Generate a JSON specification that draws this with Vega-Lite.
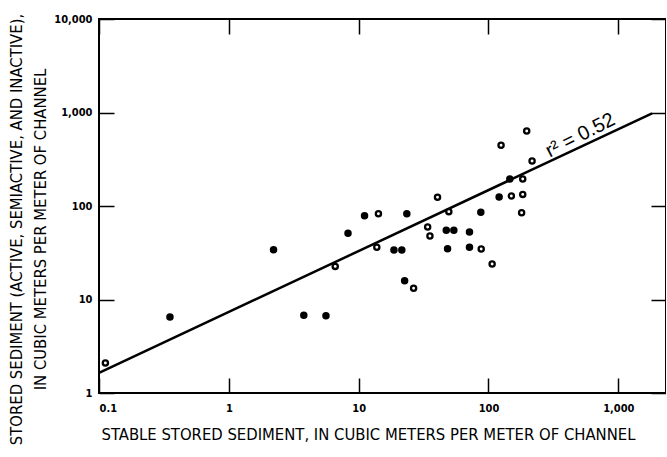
{
  "$schema": "https://vega.github.io/schema/vega-lite/v6.json",
  "autosize": "none",
  "width": 567,
  "height": 374,
  "padding": {"left": 99, "top": 19, "right": 0, "bottom": 64},
  "background": "white",
  "config": {
    "view": {"stroke": "black", "strokeWidth": 2},
    "axis": {
      "grid": false,
      "domain": false,
      "tickColor": "black",
      "tickWidth": 1.5,
      "tickSize": -15,
      "labelFont": "DejaVu Sans Condensed, Liberation Sans",
      "labelFontWeight": "bold",
      "labelFontSize": 11,
      "labelColor": "black",
      "titleFont": "DejaVu Sans Condensed, Liberation Sans",
      "titleFontWeight": "normal",
      "titleFontSize": 16.5,
      "titleColor": "black"
    }
  },
  "datasets": {
    "points": [
      {"stable": 0.112, "stored": 2.09, "type": "open"},
      {"stable": 0.352, "stored": 6.5, "type": "filled"},
      {"stable": 2.21, "stored": 34, "type": "filled"},
      {"stable": 3.78, "stored": 6.8, "type": "filled"},
      {"stable": 5.6, "stored": 6.7, "type": "filled"},
      {"stable": 6.6, "stored": 22.6, "type": "open"},
      {"stable": 8.28, "stored": 51, "type": "filled"},
      {"stable": 11.1, "stored": 78.8, "type": "filled"},
      {"stable": 14.2, "stored": 82.7, "type": "open"},
      {"stable": 13.8, "stored": 36.2, "type": "open"},
      {"stable": 18.7, "stored": 33.9, "type": "filled"},
      {"stable": 21.5, "stored": 33.9, "type": "filled"},
      {"stable": 23.5, "stored": 82.7, "type": "filled"},
      {"stable": 22.6, "stored": 15.9, "type": "filled"},
      {"stable": 26.5, "stored": 13.2, "type": "open"},
      {"stable": 40.5, "stored": 124, "type": "open"},
      {"stable": 34, "stored": 59.6, "type": "open"},
      {"stable": 35.4, "stored": 47.8, "type": "open"},
      {"stable": 49.5, "stored": 87, "type": "open"},
      {"stable": 47.3, "stored": 55, "type": "filled"},
      {"stable": 54.1, "stored": 55, "type": "filled"},
      {"stable": 48.4, "stored": 34.9, "type": "filled"},
      {"stable": 71.4, "stored": 52.7, "type": "filled"},
      {"stable": 71.4, "stored": 36.2, "type": "filled"},
      {"stable": 87.9, "stored": 34.7, "type": "open"},
      {"stable": 87.3, "stored": 85.7, "type": "filled"},
      {"stable": 106.7, "stored": 24, "type": "open"},
      {"stable": 120.8, "stored": 124.8, "type": "filled"},
      {"stable": 150, "stored": 128, "type": "open"},
      {"stable": 183.6, "stored": 133, "type": "open"},
      {"stable": 180, "stored": 84.8, "type": "open"},
      {"stable": 146, "stored": 194.5, "type": "filled"},
      {"stable": 183.6, "stored": 194.5, "type": "open"},
      {"stable": 216.7, "stored": 303, "type": "open"},
      {"stable": 125, "stored": 446, "type": "open"},
      {"stable": 197, "stored": 634, "type": "open"}
    ],
    "fit": [
      {"stable": 0.1, "stored": 1.64},
      {"stable": 1820, "stored": 980}
    ],
    "note": [
      {"stable": 510, "stored": 570, "label": "r² = 0.52"}
    ]
  },
  "layer": [
    {
      "data": {"name": "fit"},
      "mark": {"type": "line", "color": "black", "strokeWidth": 2.5},
      "encoding": {
        "x": {
          "field": "stable", "type": "quantitative",
          "scale": {"type": "log", "domain": [0.1, 2330], "nice": false},
          "axis": {"orient": "top", "values": [0.1, 1, 10, 100, 1000], "labels": false, "title": null}
        },
        "y": {
          "field": "stored", "type": "quantitative",
          "scale": {"type": "log", "domain": [1, 10000], "nice": false},
          "axis": {"orient": "right", "values": [1, 10, 100, 1000, 10000], "labels": false, "title": null}
        }
      }
    },
    {
      "data": {"name": "points"},
      "mark": {"type": "point", "filled": false, "stroke": "black", "strokeWidth": 2.3, "size": 27, "opacity": 1},
      "encoding": {
        "x": {
          "field": "stable", "type": "quantitative",
          "axis": {
            "orient": "bottom",
            "values": [0.1, 1, 10, 100, 1000],
            "format": ",~g",
            "labelPadding": 24,
            "title": "STABLE STORED SEDIMENT, IN CUBIC METERS PER METER OF CHANNEL",
            "titleX": 269,
            "titleY": 41,
            "titleBaseline": "middle",
            "titleAlign": "center"
          }
        },
        "y": {
          "field": "stored", "type": "quantitative",
          "axis": {
            "orient": "left",
            "values": [1, 10, 100, 1000, 10000],
            "format": ",~g",
            "labelPadding": 22,
            "title": ["STORED SEDIMENT (ACTIVE, SEMIACTIVE, AND INACTIVE),", "IN CUBIC METERS PER METER OF CHANNEL"],
            "titleLineHeight": 24,
            "titleX": -83,
            "titleY": 210,
            "titleAngle": -90,
            "titleBaseline": "middle",
            "titleAlign": "center"
          }
        },
        "fill": {
          "field": "type", "type": "nominal",
          "scale": {"domain": ["filled", "open"], "range": ["black", "white"]},
          "legend": null
        }
      }
    },
    {
      "data": {"name": "note"},
      "mark": {"type": "text", "font": "Liberation Sans", "fontSize": 20, "angle": -27, "align": "center", "baseline": "middle", "color": "black"},
      "encoding": {
        "x": {"field": "stable", "type": "quantitative", "axis": null},
        "y": {"field": "stored", "type": "quantitative", "axis": null},
        "text": {"field": "label"}
      }
    }
  ],
  "resolve": {"axis": {"x": "independent", "y": "independent"}}
}
